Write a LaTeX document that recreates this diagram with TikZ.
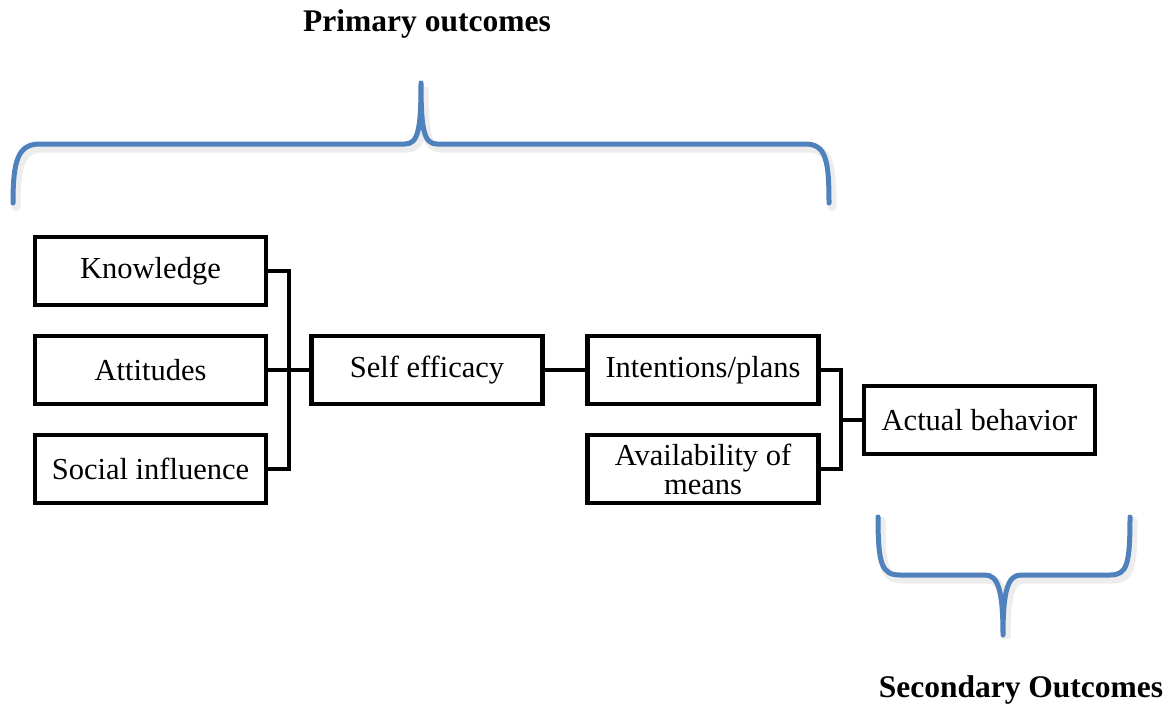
\documentclass[tikz,border=0pt]{standalone}
\usepackage{fontspec}
\setmainfont{Liberation Serif}
\definecolor{braceblue}{HTML}{4F81BD}
\begin{document}
\begin{tikzpicture}[x=1pt,y=-1pt,
  box/.style={draw=black, line width=4.5pt, minimum width=231pt, minimum height=68pt, inner sep=0pt,
    font=\fontsize{30.5}{29}\selectfont, align=center},
  conn/.style={draw=black, line width=4.5pt},
  brace/.style={draw=braceblue, line width=5pt, line cap=round, line join=round},
  braceshadow/.style={draw=black, opacity=0.07, line width=9pt, line cap=round},
  title/.style={font=\fontsize{31.5}{32}\selectfont\bfseries, inner sep=0pt}]
\useasboundingbox (0,0) rectangle (1171,707);
\fill[white] (0,0) rectangle (1171,707);

% titles
\node[title] (prim) at (427,24) {Primary outcomes};
\node[title] (sec) at (1021,690) {Secondary Outcomes};

% braces (shadow then line)
\path[braceshadow, xshift=3pt, yshift=-4pt] (13,203) .. controls (13,160) and (18,144) .. (40,144) -- (405,144) .. controls (418,144) and (421,130) .. (421,83) .. controls (421,130) and (424,144) .. (437,144) -- (805,144) .. controls (826,144) and (829,160) .. (829,203);
\path[brace] (13,203) .. controls (13,160) and (18,144) .. (40,144) -- (405,144) .. controls (418,144) and (421,130) .. (421,83) .. controls (421,130) and (424,144) .. (437,144) -- (805,144) .. controls (826,144) and (829,160) .. (829,203);

\path[braceshadow, xshift=3pt, yshift=-4pt] (878,517) .. controls (878,565) and (882,575) .. (900,575) -- (985,575) .. controls (998,575) and (1003,590) .. (1003,635) .. controls (1003,590) and (1008,575) .. (1021,575) -- (1110,575) .. controls (1127,575) and (1130,565) .. (1130,517);
\path[brace] (878,517) .. controls (878,565) and (882,575) .. (900,575) -- (985,575) .. controls (998,575) and (1003,590) .. (1003,635) .. controls (1003,590) and (1008,575) .. (1021,575) -- (1110,575) .. controls (1127,575) and (1130,565) .. (1130,517);

% boxes
\node[box] (know) at (150.5,271) {Knowledge};
\node[box] (att)  at (150.5,370) {Attitudes};
\node[box] (soc)  at (150.5,469) {Social influence};
\node[box] (self) at (427,370) {Self efficacy};
\node[box] (int)  at (703,370) {Intentions/plans};
\node[box] (avail) at (703,469) {Availability of\\means};
\node[box] (act)  at (979.5,420) {Actual behavior};

% connectors
\coordinate (j1) at (289,271);
\coordinate (j2) at (289,469);
\coordinate (j3) at (841,370);
\coordinate (j4) at (841,469);
\coordinate (j5) at (841,420);
\path[conn] (know.east) -- (j1) -- (j2) -- (soc.east);
\path[conn] (att.east) -- (self.west);
\path[conn] (self.east) -- (int.west);
\path[conn] (int.east) -- (j3) -- (j4) -- (avail.east);
\path[conn] (j5) -- (act.west);
\end{tikzpicture}
\end{document}
